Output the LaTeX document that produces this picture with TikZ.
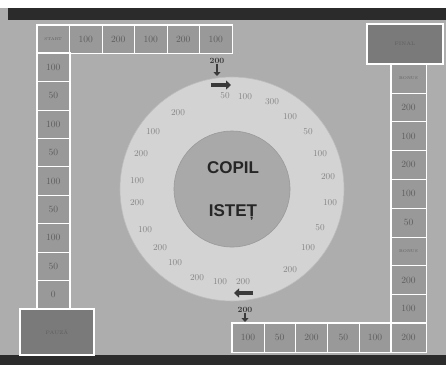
\documentclass[tikz,border=0pt]{standalone}
\usepackage{fontspec}
\usepackage{tikz}
\usetikzlibrary{arrows.meta, positioning}
\newfontfamily\boardfont{Liberation Sans}
\definecolor{boardbg}{HTML}{ADADAD}
\definecolor{bardark}{HTML}{2B2B2B}
\definecolor{cellgray}{HTML}{999999}
\definecolor{celltext}{HTML}{5C5C5C}
\definecolor{ringgray}{HTML}{D3D3D3}
\definecolor{ringedge}{HTML}{BDBDBD}
\definecolor{hubgray}{HTML}{A9A9A9}
\definecolor{hubedge}{HTML}{9A9A9A}
\definecolor{ringtext}{HTML}{858585}
\definecolor{boxgray}{HTML}{7A7A7A}
\definecolor{boxtext}{HTML}{5E5E5E}
\definecolor{markdark}{HTML}{3A3A3A}
\newcommand{\smalltag}[1]{{\fontsize{4}{5}\selectfont #1}}
\tikzstyle{cell} = [rectangle, minimum width=32.5pt, minimum height=28pt, inner sep=0pt, draw=white, line width=0.6pt, fill=cellgray, text=celltext, font=\fontsize{9.5}{10}\selectfont]
\tikzstyle{corner} = [rectangle, inner sep=0pt, draw=white, line width=1.8pt, fill=boxgray, text=boxtext, font=\fontsize{5}{6}\selectfont]
\tikzstyle{ringnum} = [inner sep=0pt, text=ringtext, font=\fontsize{9}{10}\selectfont]
\tikzstyle{title} = [inner sep=0pt, text=black!85, font=\boardfont\bfseries\fontsize{17}{18}\selectfont]
\tikzstyle{marker} = [inner sep=0pt, text=markdark, font=\bfseries\fontsize{8}{9}\selectfont]
\tikzstyle{groupline} = [draw=white, line width=1.4pt]
\tikzstyle{arrow} = [line width=3.6pt, -{Triangle[length=5pt, width=9pt]}, color=markdark]
\tikzstyle{drop} = [line width=2.4pt, -{Triangle[length=4pt, width=7pt]}, color=markdark]

\begin{document}
\begin{tikzpicture}[x=1pt, y=-1pt]
    % board and frame bars
    \useasboundingbox (0,0) rectangle (446,365);
    \fill[boardbg] (0,0) rectangle (446,365);
    \fill[white] (0,0) rectangle (446,8);
    \fill[bardark] (8,8) rectangle (446,20);
    \fill[bardark] (0,355) rectangle (446,365);

    % wheel in the middle
    \node[circle, minimum size=224pt, fill=ringgray, draw=ringedge, line width=0.6pt] (ring) at (232,189) {};
    \node[circle, minimum size=116pt, fill=hubgray, draw=hubedge, line width=0.6pt] (hub) at (232,189) {};
    \node[title] (copil) at (233,168) {COPIL};
    \node[title] (istet) at (233,212) {ISTEȚ};

    \foreach \x/\y/\num in {225/96/50, 245/97/100, 272/102/300, 290/117/100, 308/132/50,
        320/154/100, 328/177/200, 330/203/100, 320/228/50, 308/248/100, 290/270/200,
        243/282/200, 220/282/100, 197/278/200, 175/263/100, 160/248/200, 145/230/100,
        137/203/200, 137/181/100, 141/154/200, 153/132/100, 178/113/200}
        \node[ringnum] at (\x,\y) {\num};

    % top row and left column
    \node[cell] (top1) at (53.25,39) {\smalltag{START}};
    \foreach \num [count=\i from 2] in {100,200,100,200,100}
        \node[cell] (top\i) at ({37+32.5*(\i-0.5)},39) {\num};
    \foreach \num [count=\i] in {100,50,100,50,100,50,100,50,0}
        \node[cell, minimum height=28.44pt] (left\i) at (53.25,{53+28.44*(\i-0.5)}) {\num};
    \draw[groupline] (top1.north west) rectangle (top6.south east);
    \draw[groupline] (left1.north west) rectangle (left9.south east);

    % right column and bottom row
    \foreach \num [count=\i] in {\smalltag{BONUS},200,100,200,100,50,\smalltag{BONUS},200,100,200}
        \node[cell, minimum width=35pt, minimum height=28.8pt] (right\i) at (408.5,{64+28.8*(\i-0.5)}) {\num};
    \foreach \num [count=\i] in {100,50,200,50,100}
        \node[cell, minimum width=31.8pt, minimum height=28.8pt] (bottom\i) at ({232+31.8*(\i-0.5)},337.6) {\num};
    \draw[groupline] (right1.north west) rectangle (right10.south east);
    \draw[groupline] (bottom1.north west) rectangle (right10.south east);

    % corner boxes
    \node[corner, minimum width=76pt, minimum height=40pt] (finish) at (405,44) {FINAL};
    \node[corner, minimum width=74pt, minimum height=46pt] (pause) at (57,332) {PAUZĂ};

    % entry and exit of the wheel
    \node[marker] (startnum) at (217,61) {200};
    \coordinate (startdrop) at (217,76);
    \draw[drop] (startnum) -- (startdrop);
    \coordinate (inA) at (211,85);
    \coordinate (inB) at (231,85);
    \draw[arrow] (inA) -- (inB);

    \coordinate (outA) at (253,293);
    \coordinate (outB) at (234,293);
    \draw[arrow] (outA) -- (outB);
    \node[marker] (endnum) at (245,310) {200};
    \coordinate (enddrop) at (245,322);
    \draw[drop] (endnum) -- (enddrop);
\end{tikzpicture}
\end{document}
